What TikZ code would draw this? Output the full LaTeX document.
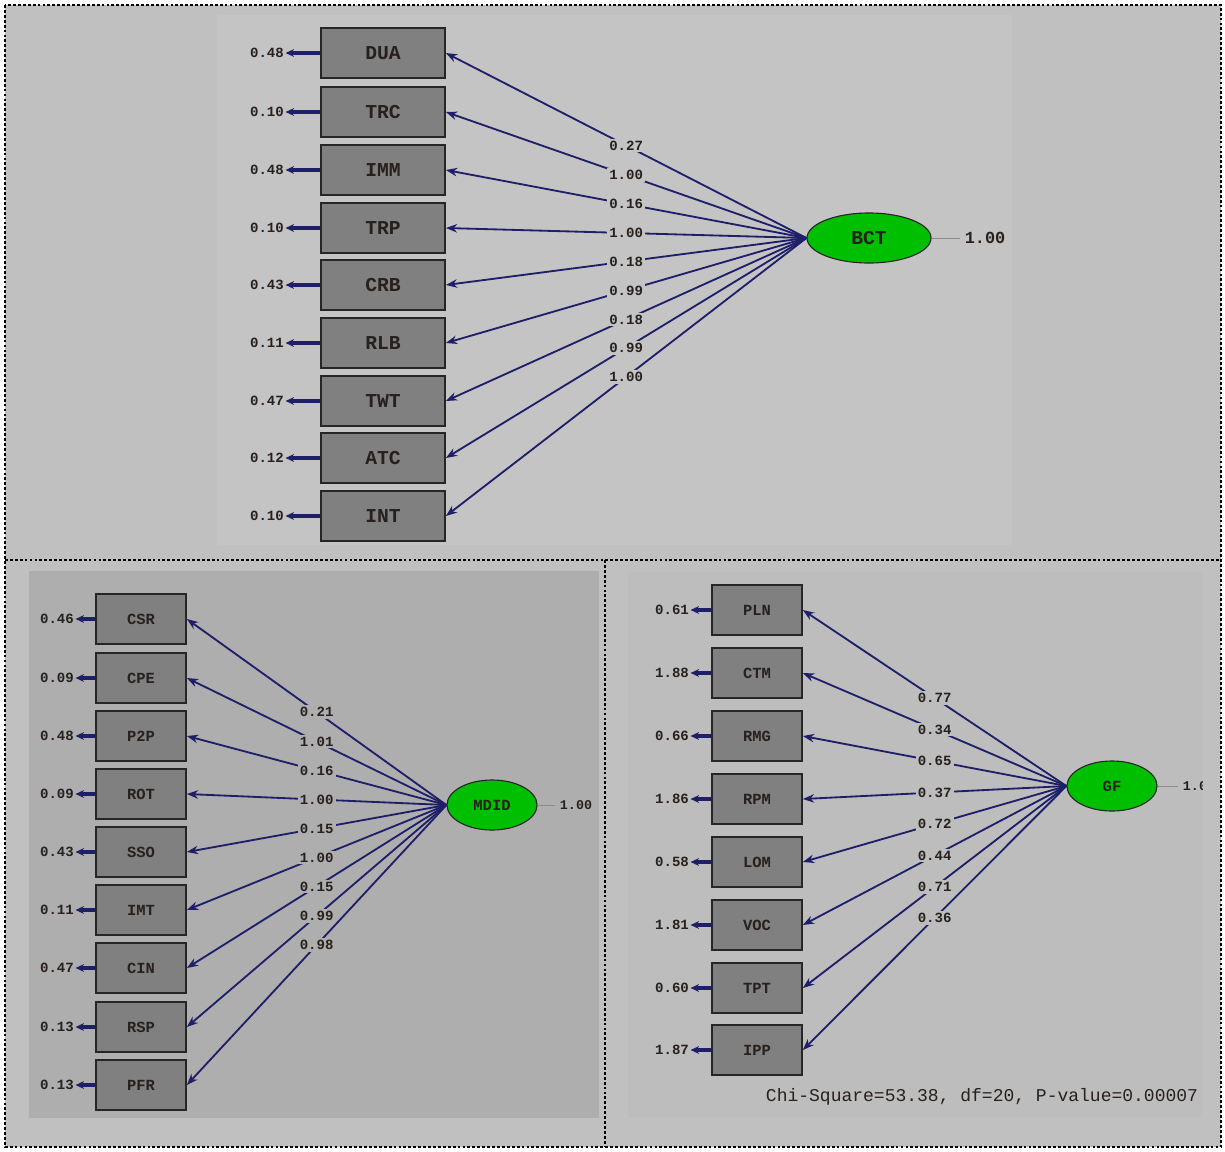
\documentclass[tikz,border=0pt]{standalone}
\usepackage{fontspec}
\setmonofont{Liberation Mono}
\usepackage{tikz}
\usetikzlibrary{arrows,arrows.meta,shapes}
\definecolor{outerbg}{RGB}{192,192,192}
\definecolor{topbg}{RGB}{196,196,196}
\definecolor{leftbg}{RGB}{174,174,174}
\definecolor{rightbg}{RGB}{189,189,189}
\definecolor{pathblue}{RGB}{30,30,105}
\definecolor{boxgray}{RGB}{128,128,128}
\definecolor{latgreen}{RGB}{0,190,0}
\definecolor{txtdark}{RGB}{40,32,28}
\tikzstyle{frameL}=[line width=2pt, dash pattern=on 2pt off 1.5pt]
\tikzstyle{obsV}=[rectangle, fill=boxgray, draw=black!85, line width=1.2pt, minimum height=1.25cm, inner sep=0pt, text=txtdark, font=\ttfamily\bfseries]
\tikzstyle{latV}=[ellipse, fill=latgreen, draw=black!85, line width=0.8pt, minimum height=1.25cm, inner sep=0pt, text=txtdark, font=\ttfamily\bfseries]
\tikzstyle{errT}=[inner sep=1pt, text=txtdark, font=\ttfamily\bfseries]
\tikzstyle{loadT}=[inner sep=1.5pt, text=txtdark, font=\ttfamily\bfseries]
\tikzstyle{errE}=[-{Stealth[length=6pt, width=5.5pt]}, line width=2.2pt, pathblue]
\tikzstyle{loadE}=[-{Stealth[length=8pt, width=6pt]}, line width=1.3pt, pathblue]
\tikzstyle{varE}=[line width=0.6pt, black!45]

\begin{document}
\begin{tikzpicture}[x=0.025cm, y=-0.025cm]
    \useasboundingbox (0,0) rectangle (1225,1152);
    \fill [white] (0,0) rectangle (1225,1152);
    \fill [outerbg] (5,5) rectangle (1221,1147);
    \fill [topbg] (217,15) rectangle (1012,545);
    \fill [leftbg] (29,571) rectangle (599,1118);
    \fill [rightbg] (628,572) rectangle (1202,1118);

    %%%%%  Marcos  %%%%%
    \draw [frameL] (5,5) rectangle (1221,1147);
    \draw [frameL] (5,560) -- (1221,560);
    \draw [frameL] (605,560) -- (605,1147);

    %%%%%  Modelo BCT  %%%%%
    \begin{scope}[every node/.append style={font=\ttfamily\bfseries\fontsize{12}{12}\selectfont}]
      \tikzstyle{obsV}+=[minimum width=3.1cm, font=\ttfamily\bfseries\fontsize{14}{14}\selectfont]
      \tikzstyle{loadT}+=[fill=topbg]
      \node (BCT) [latV, minimum width=3.1cm, font=\ttfamily\bfseries\fontsize{14}{14}\selectfont] at (869,238) {BCT};
      \node (vBCT) [text=txtdark] at (985,238) {1.00};
      \draw [varE] (BCT) -- (vBCT);

      \node (DUA) [obsV] at (383,53) {DUA};
      \node (TRC) [obsV] at (383,112) {TRC};
      \node (IMM) [obsV] at (383,170) {IMM};
      \node (TRP) [obsV] at (383,228) {TRP};
      \node (CRB) [obsV] at (383,285) {CRB};
      \node (RLB) [obsV] at (383,343) {RLB};
      \node (TWT) [obsV] at (383,401) {TWT};
      \node (ATC) [obsV] at (383,458) {ATC};
      \node (INT) [obsV] at (383,516) {INT};

      \node (eDUA) [errT] at (267,53) {0.48};
      \node (eTRC) [errT] at (267,112) {0.10};
      \node (eIMM) [errT] at (267,170) {0.48};
      \node (eTRP) [errT] at (267,228) {0.10};
      \node (eCRB) [errT] at (267,285) {0.43};
      \node (eRLB) [errT] at (267,343) {0.11};
      \node (eTWT) [errT] at (267,401) {0.47};
      \node (eATC) [errT] at (267,458) {0.12};
      \node (eINT) [errT] at (267,516) {0.10};

      \draw [errE] (DUA) -- (eDUA);
      \draw [errE] (TRC) -- (eTRC);
      \draw [errE] (IMM) -- (eIMM);
      \draw [errE] (TRP) -- (eTRP);
      \draw [errE] (CRB) -- (eCRB);
      \draw [errE] (RLB) -- (eRLB);
      \draw [errE] (TWT) -- (eTWT);
      \draw [errE] (ATC) -- (eATC);
      \draw [errE] (INT) -- (eINT);

      \draw [loadE] (BCT.west) -- node [loadT] {0.27} (DUA.east);
      \draw [loadE] (BCT.west) -- node [loadT] {1.00} (TRC.east);
      \draw [loadE] (BCT.west) -- node [loadT] {0.16} (IMM.east);
      \draw [loadE] (BCT.west) -- node [loadT] {1.00} (TRP.east);
      \draw [loadE] (BCT.west) -- node [loadT] {0.18} (CRB.east);
      \draw [loadE] (BCT.west) -- node [loadT] {0.99} (RLB.east);
      \draw [loadE] (BCT.west) -- node [loadT] {0.18} (TWT.east);
      \draw [loadE] (BCT.west) -- node [loadT] {0.99} (ATC.east);
      \draw [loadE] (BCT.west) -- node [loadT] {1.00} (INT.east);
    \end{scope}

    %%%%%  Modelo MDID  %%%%%
    \begin{scope}[every node/.append style={font=\ttfamily\bfseries\fontsize{9.5}{9.5}\selectfont}]
      \tikzstyle{obsV}+=[minimum width=2.25cm, font=\ttfamily\bfseries\fontsize{11}{11}\selectfont]
      \tikzstyle{loadT}+=[fill=leftbg]
      \node (MDID) [latV, minimum width=2.25cm, font=\ttfamily\bfseries\fontsize{11}{11}\selectfont] at (492,805) {MDID};
      \node (vMDID) [text=txtdark] at (576,805) {1.00};
      \draw [varE] (MDID) -- (vMDID);

      \node (CSR) [obsV] at (141,619) {CSR};
      \node (CPE) [obsV] at (141,678) {CPE};
      \node (P2P) [obsV] at (141,736) {P2P};
      \node (ROT) [obsV] at (141,794) {ROT};
      \node (SSO) [obsV] at (141,852) {SSO};
      \node (IMT) [obsV] at (141,910) {IMT};
      \node (CIN) [obsV] at (141,968) {CIN};
      \node (RSP) [obsV] at (141,1027) {RSP};
      \node (PFR) [obsV] at (141,1085) {PFR};

      \node (eCSR) [errT] at (57,619) {0.46};
      \node (eCPE) [errT] at (57,678) {0.09};
      \node (eP2P) [errT] at (57,736) {0.48};
      \node (eROT) [errT] at (57,794) {0.09};
      \node (eSSO) [errT] at (57,852) {0.43};
      \node (eIMT) [errT] at (57,910) {0.11};
      \node (eCIN) [errT] at (57,968) {0.47};
      \node (eRSP) [errT] at (57,1027) {0.13};
      \node (ePFR) [errT] at (57,1085) {0.13};

      \draw [errE] (CSR) -- (eCSR);
      \draw [errE] (CPE) -- (eCPE);
      \draw [errE] (P2P) -- (eP2P);
      \draw [errE] (ROT) -- (eROT);
      \draw [errE] (SSO) -- (eSSO);
      \draw [errE] (IMT) -- (eIMT);
      \draw [errE] (CIN) -- (eCIN);
      \draw [errE] (RSP) -- (eRSP);
      \draw [errE] (PFR) -- (ePFR);

      \draw [loadE] (MDID.west) -- node [loadT] {0.21} (CSR.east);
      \draw [loadE] (MDID.west) -- node [loadT] {1.01} (CPE.east);
      \draw [loadE] (MDID.west) -- node [loadT] {0.16} (P2P.east);
      \draw [loadE] (MDID.west) -- node [loadT] {1.00} (ROT.east);
      \draw [loadE] (MDID.west) -- node [loadT] {0.15} (SSO.east);
      \draw [loadE] (MDID.west) -- node [loadT] {1.00} (IMT.east);
      \draw [loadE] (MDID.west) -- node [loadT] {0.15} (CIN.east);
      \draw [loadE] (MDID.west) -- node [loadT] {0.99} (RSP.east);
      \draw [loadE] (MDID.west) -- node [loadT] {0.98} (PFR.east);
    \end{scope}

    %%%%%  Modelo GF  %%%%%
    \begin{scope}[every node/.append style={font=\ttfamily\bfseries\fontsize{9.5}{9.5}\selectfont}]
      \tikzstyle{obsV}+=[minimum width=2.25cm, font=\ttfamily\bfseries\fontsize{11}{11}\selectfont]
      \tikzstyle{loadT}+=[fill=rightbg]
      \clip (628,572) rectangle (1202,1118);
      \node (GF) [latV, minimum width=2.25cm, font=\ttfamily\bfseries\fontsize{11}{11}\selectfont] at (1112,786) {GF};
      \node (vGF) [anchor=west, text=txtdark] at (1178,786) {1.00};
      \draw [varE] (GF) -- (vGF);

      \node (PLN) [obsV] at (757,610) {PLN};
      \node (CTM) [obsV] at (757,673) {CTM};
      \node (RMG) [obsV] at (757,736) {RMG};
      \node (RPM) [obsV] at (757,799) {RPM};
      \node (LOM) [obsV] at (757,862) {LOM};
      \node (VOC) [obsV] at (757,925) {VOC};
      \node (TPT) [obsV] at (757,988) {TPT};
      \node (IPP) [obsV] at (757,1050) {IPP};

      \node (ePLN) [errT] at (672,610) {0.61};
      \node (eCTM) [errT] at (672,673) {1.88};
      \node (eRMG) [errT] at (672,736) {0.66};
      \node (eRPM) [errT] at (672,799) {1.86};
      \node (eLOM) [errT] at (672,862) {0.58};
      \node (eVOC) [errT] at (672,925) {1.81};
      \node (eTPT) [errT] at (672,988) {0.60};
      \node (eIPP) [errT] at (672,1050) {1.87};

      \draw [errE] (PLN) -- (ePLN);
      \draw [errE] (CTM) -- (eCTM);
      \draw [errE] (RMG) -- (eRMG);
      \draw [errE] (RPM) -- (eRPM);
      \draw [errE] (LOM) -- (eLOM);
      \draw [errE] (VOC) -- (eVOC);
      \draw [errE] (TPT) -- (eTPT);
      \draw [errE] (IPP) -- (eIPP);

      \draw [loadE] (GF.west) -- node [loadT] {0.77} (PLN.east);
      \draw [loadE] (GF.west) -- node [loadT] {0.34} (CTM.east);
      \draw [loadE] (GF.west) -- node [loadT] {0.65} (RMG.east);
      \draw [loadE] (GF.west) -- node [loadT] {0.37} (RPM.east);
      \draw [loadE] (GF.west) -- node [loadT] {0.72} (LOM.east);
      \draw [loadE] (GF.west) -- node [loadT] {0.44} (VOC.east);
      \draw [loadE] (GF.west) -- node [loadT] {0.71} (TPT.east);
      \draw [loadE] (GF.west) -- node [loadT] {0.36} (IPP.east);

      \node (chi) [anchor=east, text=txtdark, font=\ttfamily\fontsize{12.8}{12.8}\selectfont] at (1203,1097) {Chi-Square=53.38, df=20, P-value=0.00007};
    \end{scope}
  \end{tikzpicture}
\end{document}
